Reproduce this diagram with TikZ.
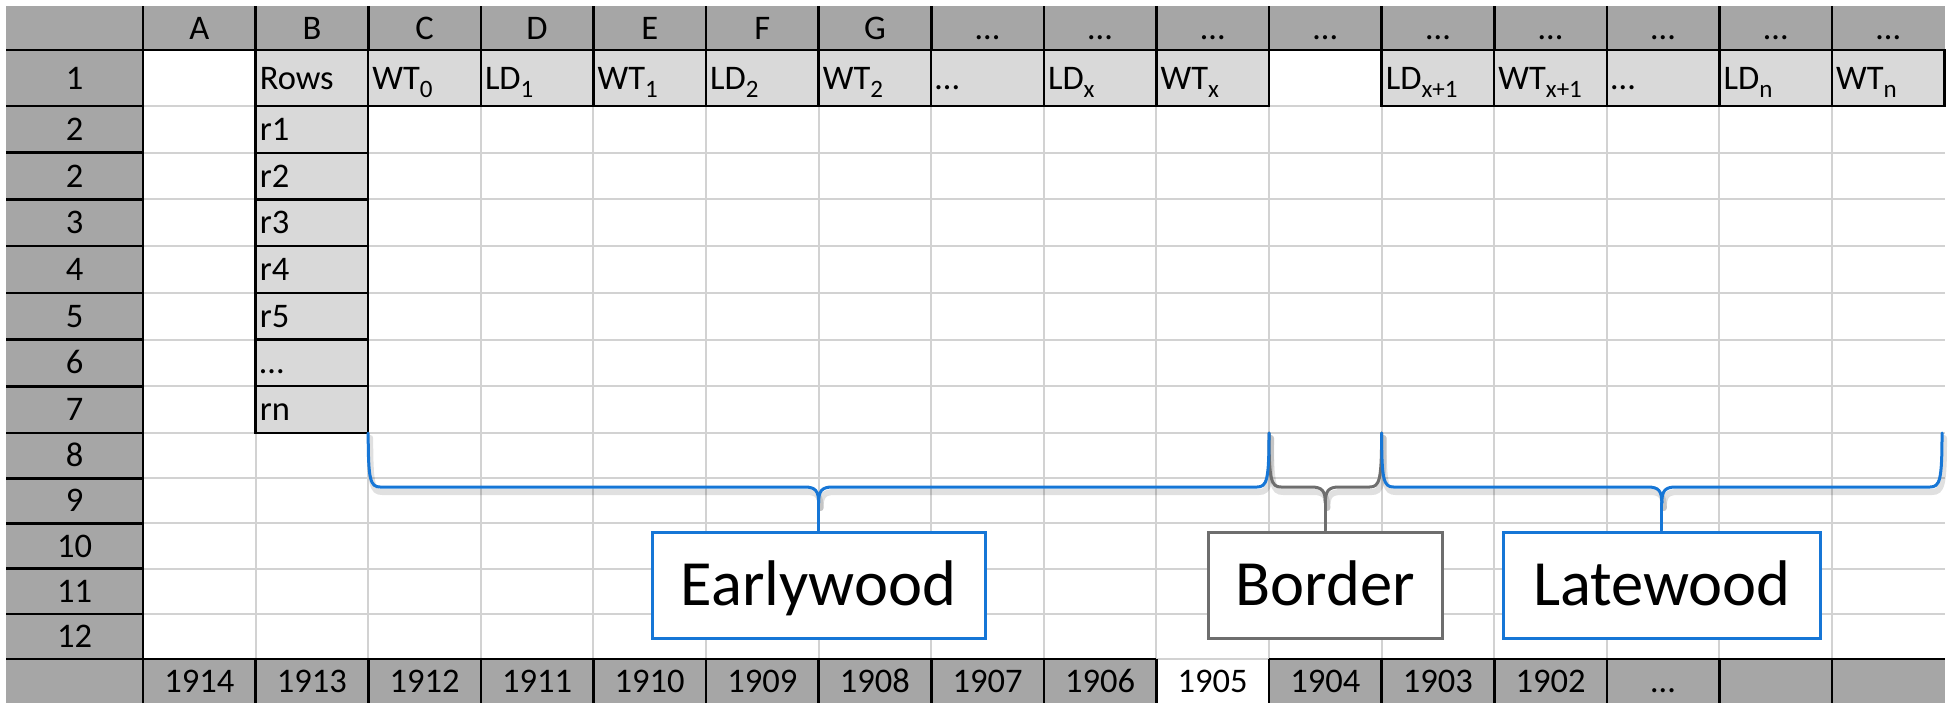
\documentclass[tikz,border=0pt]{standalone}
\usepackage{fontspec}
\setmainfont{Carlito}
\definecolor{hdrgray}{HTML}{A6A6A6}
\definecolor{cellgray}{HTML}{D9D9D9}
\definecolor{gridgray}{HTML}{D2D2D2}
\definecolor{braceblue}{RGB}{22,118,214}
\definecolor{bracegray}{RGB}{110,110,110}
\newcommand\subx[1]{\raisebox{-0.26em}{\fontsize{25}{25}\selectfont #1}}
\newcommand\colx[1]{143+(#1)*112.6}
\newcommand\bracebody[4]{%
  \draw[#4] (#1,433) .. controls (#1,480) and ({#1+2},487) .. ({#1+12},487) -- ({#3-14},487) .. controls ({#3-3},487) and (#3,491) .. (#3,503);
  \draw[#4] (#2,433) .. controls (#2,480) and ({#2-2},487) .. ({#2-12},487) -- ({#3+14},487) .. controls ({#3+3},487) and (#3,491) .. (#3,503);
}
\begin{document}
\begin{tikzpicture}[x=1pt,y=-1pt,
  txt/.style={font=\fontsize{34.5}{38}\selectfont, inner sep=0pt, text height=22pt, text depth=0pt},
  lbl/.style={txt, anchor=center},
  ltxt/.style={txt, anchor=west},
  gridln/.style={draw=gridgray, line width=2pt},
  blk/.style={draw=black, line width=2.6pt},
  datacell/.style={fill=cellgray, draw=black, line width=2.4pt},
  callout/.style={draw, line width=3pt, fill=white, inner sep=0pt, minimum height=106pt, text height=41pt, text depth=0pt, font=\fontsize{64.5}{70}\selectfont},
  bshadow/.style={draw=black, opacity=0.12, line width=6pt, line cap=round},
  bluebrace/.style={draw=braceblue, line width=3pt, line cap=round},
  graybrace/.style={draw=bracegray, line width=3pt, line cap=round},
]
\useasboundingbox (0,0) rectangle (1950,707);

% light grid
\foreach \y in {106,152.7,199.4,246.1,292.8,339.5,386.2,433,478.2,523.4,568.6,613.8,659}
  \draw[gridln] (143,\y) -- (1945,\y);
\foreach \k in {1,...,15}
  \draw[gridln] ({\colx{\k}},50) -- ({\colx{\k}},659);

% row header column and corner
\fill[hdrgray] (6,6) rectangle (143,703);
\foreach \y in {106,152.7,199.4,246.1,292.8,339.5,386.2,433,478.2,523.4,568.6,613.8}
  \draw[blk] (6,\y) -- (143,\y);

% column header row
\fill[hdrgray] (143,6) rectangle (1945,50);
\foreach \k in {1,...,15}
  \draw[blk] ({\colx{\k}},6) -- ({\colx{\k}},50);
\draw[blk] (6,50) -- (1945,50);

% footer row
\fill[hdrgray] (143,659) rectangle ({\colx{9}},703);
\fill[hdrgray] ({\colx{10}},659) rectangle (1945,703);
\draw[blk] (6,659) -- ({\colx{9}},659);
\draw[blk] ({\colx{10}},659) -- (1945,659);
\foreach \k in {1,...,15}
  \draw[blk] ({\colx{\k}},659) -- ({\colx{\k}},703);
\draw[blk] (143,6) -- (143,703);

% row 1 data header cells
\foreach \k in {1,...,9,11,12,13,14,15}
  \draw[datacell] ({\colx{\k}},50) rectangle ({\colx{\k+1}},106);
% column B row cells
\foreach \t/\b in {106/152.7,152.7/199.4,199.4/246.1,246.1/292.8,292.8/339.5,339.5/386.2,386.2/433}
  \draw[datacell] ({\colx{1}},\t) rectangle ({\colx{2}},\b);

% column header labels
\foreach \lab [count=\i from 0] in {A,B,C,D,E,F,G,\ldots,\ldots,\ldots,\ldots,\ldots,\ldots,\ldots,\ldots,\ldots}
  \node[lbl] (h\i) at ({\colx{\i+0.5}},28) {\lab};

% row labels
\foreach \t/\b/\lab [count=\i] in {50/106/1,106/152.7/2,152.7/199.4/2,199.4/246.1/3,246.1/292.8/4,292.8/339.5/5,339.5/386.2/6,386.2/433/7,433/478.2/8,478.2/523.4/9,523.4/568.6/10,568.6/613.8/11,613.8/659/12}
  \node[lbl] (rl\i) at (74.5,{(\t+\b)/2}) {\lab};

% row 1 texts
\foreach \k/\lab in {1/Rows,2/WT\subx{0},3/LD\subx{1},4/WT\subx{1},5/LD\subx{2},6/WT\subx{2},7/\ldots,8/LD\subx{x},9/WT\subx{x},11/LD\subx{x+1},12/WT\subx{x+1},13/\ldots,14/LD\subx{n},15/WT\subx{n}}
  \node[ltxt] (t\k) at ({\colx{\k}+4},78) {\lab};

% column B texts
\foreach \t/\b/\lab [count=\i] in {106/152.7/r1,152.7/199.4/r2,199.4/246.1/r3,246.1/292.8/r4,292.8/339.5/r5,339.5/386.2/\ldots,386.2/433/rn}
  \node[ltxt] (b\i) at ({\colx{1}+4},{(\t+\b)/2}) {\lab};

% footer years
\foreach \k/\lab in {0/1914,1/1913,2/1912,3/1911,4/1910,5/1909,6/1908,7/1907,8/1906,9/1905,10/1904,11/1903,12/1902,13/\ldots}
  \node[lbl] (y\k) at ({\colx{\k+0.5}},681) {\lab};

% callout boxes
\node[callout, draw=braceblue, minimum width=333pt] (early) at (818.6,585) {Earlywood};
\node[callout, draw=bracegray, minimum width=234pt] (bord) at (1325.3,585) {Border};
\node[callout, draw=braceblue, minimum width=317pt] (late) at (1661.8,585) {Latewood};

\coordinate (earlytip) at (818.6,503);
\coordinate (bordtip) at (1325.3,503);
\coordinate (latetip) at (1661.8,503);

% brace shadows
\begin{scope}[shift={(2,5)}]
  \bracebody{368.2}{1269}{818.6}{bshadow}
  \bracebody{1269}{1381.6}{1325.3}{bshadow}
  \bracebody{1381.6}{1942}{1661.8}{bshadow}
\end{scope}

% braces
\bracebody{1269}{1381.6}{1325.3}{graybrace}
\draw[graybrace] (bordtip) -- (bord.north);
\bracebody{368.2}{1269}{818.6}{bluebrace}
\draw[bluebrace] (earlytip) -- (early.north);
\bracebody{1381.6}{1942}{1661.8}{bluebrace}
\draw[bluebrace] (latetip) -- (late.north);
\end{tikzpicture}
\end{document}
